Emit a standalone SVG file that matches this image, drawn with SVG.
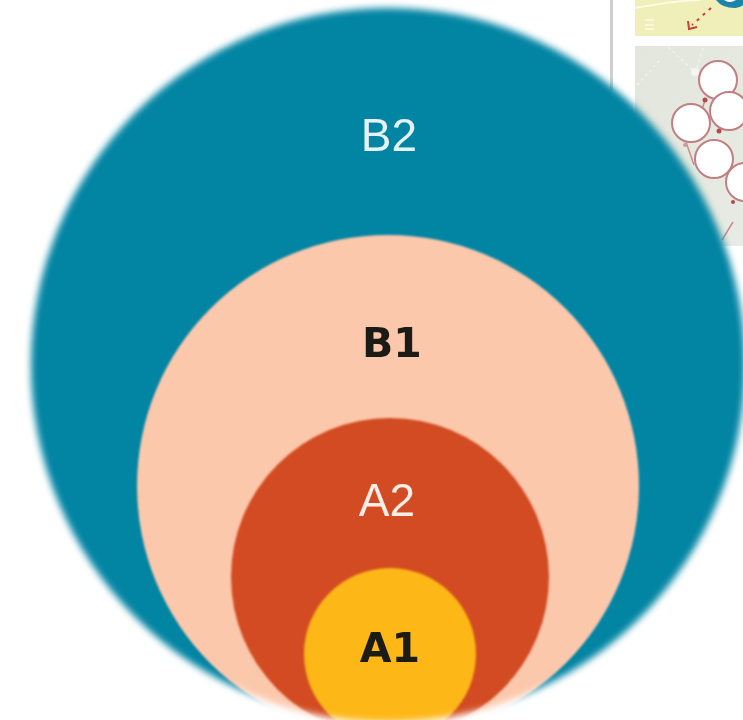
<svg xmlns="http://www.w3.org/2000/svg" width="743" height="720" viewBox="0 0 743 720">
<defs>
<style>
.t{font-family:"Liberation Sans","DejaVu Sans",sans-serif;font-size:46px;font-weight:400;text-anchor:middle}
.b{font-family:"DejaVu Sans","Liberation Sans",sans-serif;font-size:41px;font-weight:700;text-anchor:middle;fill:#1c1a16}
.bal{fill:#fff;stroke:#c17f82;stroke-width:2}
.tie{fill:none;stroke:#c98d8f;stroke-width:1.5}
</style>
<filter id="soft" x="-10%" y="-10%" width="120%" height="120%"><feGaussianBlur stdDeviation="3.5"/></filter>
<filter id="s1" x="-20%" y="-20%" width="140%" height="140%"><feGaussianBlur stdDeviation="0.9"/></filter>
<filter id="s2" x="-20%" y="-20%" width="140%" height="140%"><feGaussianBlur stdDeviation="0.7"/></filter>
<linearGradient id="pg" x1="0" y1="0" x2="1" y2="1"><stop offset="0" stop-color="#e2e6dc"/><stop offset="1" stop-color="#e8ebe3"/></linearGradient>
<mask id="m" maskUnits="userSpaceOnUse" x="0" y="0" width="743" height="720">
<circle cx="388" cy="365" r="357" fill="#fff" filter="url(#soft)"/>
</mask>
</defs>
<rect width="743" height="720" fill="#fff"/>
<g id="background" filter="url(#s2)">
<rect x="610" y="0" width="3" height="90" fill="#cfcfcf"/>
<rect x="635" y="0" width="108" height="36" fill="#f0efb9"/>
<path d="M635 8 Q680 0 700 0" fill="none" stroke="#fbfbe6" stroke-width="2"/>
<path d="M645 20H654M645 25H654M645 29H654" stroke="#fbfbe6" stroke-width="1.5"/>
<path d="M716 0Q722 8 735 8Q741 7 743 5V0Z" fill="#1a84a8"/>
<path d="M724 0Q730 4 736 0Z" fill="#fff"/>
<path d="M711 8L692 25" stroke="#c9403a" stroke-width="2" stroke-dasharray="3 5" fill="none"/>
<path d="M688 21L689 29L697 27" stroke="#c9403a" stroke-width="2" fill="none"/>
<rect x="635" y="46" width="108" height="200" fill="url(#pg)"/>
<path d="M668 47L695 72M703 48L696 72M637 85L660 60" stroke="#f2f4ee" stroke-width="1.2" stroke-dasharray="3 3" fill="none"/>
<circle cx="695" cy="72" r="4" fill="#f5f6f1"/>
<path d="M705 100L702 110M686 142L694 165M733 222L722 240" class="tie"/>
<circle cx="718" cy="80" r="19" class="bal"/>
<circle cx="691" cy="123" r="19" class="bal"/>
<circle cx="729" cy="111" r="19" class="bal"/>
<circle cx="714" cy="159" r="19" class="bal"/>
<circle cx="745" cy="182" r="19" class="bal"/>
<circle cx="705" cy="100" r="2.5" fill="#b8484c"/>
<circle cx="719" cy="131" r="2.5" fill="#b8484c"/>
<circle cx="685" cy="145" r="2" fill="#cf9a9c"/>
<circle cx="733" cy="202" r="2" fill="#b8484c"/>
</g>
<g id="circles" mask="url(#m)">
<g id="B2"><rect width="743" height="720" fill="#0284a3"/></g>
<g id="B1"><circle cx="388" cy="486" r="251" fill="#fcc8ac" filter="url(#s1)"/></g>
<g id="A2"><circle cx="390" cy="577" r="159" fill="#d24c24" filter="url(#s1)"/></g>
<g id="A1"><circle cx="390" cy="654" r="86" fill="#fdb714" filter="url(#s1)"/></g>
</g>
<g id="labels" filter="url(#s2)">
<text class="t" x="389" y="151" fill="#e6f2f5">B2</text>
<text class="b" x="392" y="357">B1</text>
<text class="t" x="387" y="516" fill="#fbeee8">A2</text>
<text class="b" x="390" y="662">A1</text>
</g>
</svg>
